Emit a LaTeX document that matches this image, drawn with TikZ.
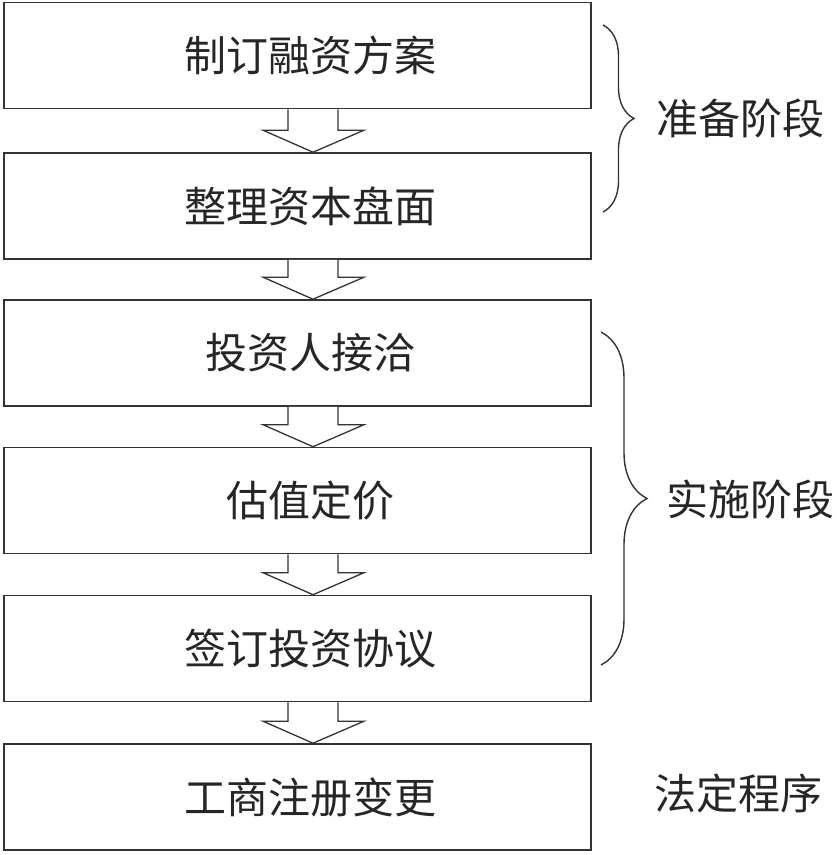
\documentclass[tikz,border=0pt]{standalone}
\usepackage{fontspec}
\newfontfamily\cjk{Noto Sans CJK SC}
\usetikzlibrary{calc,decorations.pathreplacing}

\begin{document}
\begin{tikzpicture}
[x=1pt,y=-1pt,line width=1.6pt,draw=black!80,
	box/.style={shape=rectangle,draw,minimum width=587pt,minimum height=106pt,inner sep=0pt},
	txt/.style={font=\cjk\fontsize{42}{50}\selectfont,text=black!85,inner sep=0pt},
	hollow/.style={line width=1.3pt,fill=white,line join=miter},
	curly/.style={line width=1.4pt,decorate,decoration={brace,amplitude=#1}}]
\useasboundingbox (0,0) rectangle (837,855);

\foreach \n/\y/\t in {b1/55.5/制订融资方案,b2/206/整理资本盘面,b3/353/投资人接洽,
	b4/500.5/估值定价,b5/648.5/签订投资协议,b6/797/工商注册变更}
{
	\node[box] (\n) at (297.5,\y) {};
	\node[txt] (t\n) at (310,\y) {\t};
}

% hollow block arrows
\foreach \a/\b in {b1/b2,b2/b3,b3/b4,b4/b5,b5/b6}
{
	\draw[hollow] ($(\a.south)+(-9.5,0)$) -- ($(\b.north)+(-9.5,-22)$)
		-- ($(\b.north)+(-34.5,-22)$) -- ($(\b.north)+(15.5,0)$)
		-- ($(\b.north)+(66.5,-22)$) -- ($(\b.north)+(40.5,-22)$)
		-- ($(\a.south)+(40.5,0)$);
}

\coordinate (p1) at (603,25);
\coordinate (p2) at (603,212);
\coordinate (q1) at (601,332);
\coordinate (q2) at (601,665);
\draw[curly=31pt] (p1) -- (p2);
\draw[curly=46pt] (q1) -- (q2);

\node[txt] (s1) at (740,118) {准备阶段};
\node[txt] (s2) at (750,499) {实施阶段};
\node[txt] (s3) at (738,793) {法定程序};
\end{tikzpicture}
\end{document}
